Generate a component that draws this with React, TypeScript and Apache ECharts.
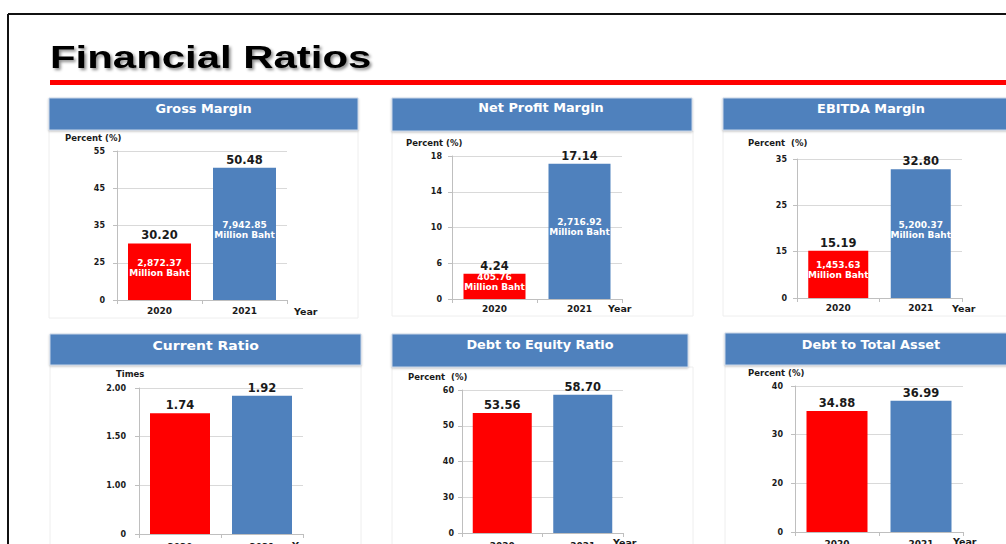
import React, { useEffect, useRef } from 'react';
import * as echarts from 'echarts';

// ---- data ----
const years = ['2020', '2021'];

const grossMargin = [30.2, 50.48];
const grossAmount = ['2,872.37', '7,942.85'];
const grossTicks = ['0', '25', '35', '45', '55'];

const netProfitMargin = [4.24, 17.14];
const netProfitAmount = ['405.76', '2,716.92'];
const netProfitTicks = ['0', '6', '10', '14', '18'];

const ebitdaMargin = [15.19, 32.8];
const ebitdaAmount = ['1,453.63', '5,200.37'];
const ebitdaTicks = ['0', '15', '25', '35'];

const currentRatio = [1.74, 1.92];
const currentTicks = ['0', '1.00', '1.50', '2.00'];

const debtToEquity = [53.56, 58.7];
const debtToEquityTicks = ['0', '30', '40', '50', '60'];

const debtToAsset = [34.88, 36.99];
const debtToAssetTicks = ['0', '20', '30', '40'];

// ---- styles ----
const FONT = '"DejaVu Sans", Verdana, sans-serif';
const RED = '#FF0000';
const BLUE = '#4F81BD';
const TXT = '#1a1a1a';

// piecewise axis (each labelled tick equally spaced, as in the source)
function toAxis(v: number, labels: string[]) {
  const t = labels.map(Number);
  for (let i = 0; i < t.length - 1; i++) {
    if (v <= t[i + 1]) return i + (v - t[i]) / (t[i + 1] - t[i]);
  }
  const n = t.length;
  return n - 1 + (v - t[n - 1]) / (t[n - 1] - t[n - 2]);
}

type Panel = {
  title: string;
  unit: string;
  values: number[];
  amounts?: string[];
  ticks: string[];
  grid: { left: number; top: number; width: number; height: number };
  barWidth: number;
  labelMargin: number;
  catMargin: number;
  header: { x: number; y: number; w: number; h: number; tx: number; ty: number; fs: number };
  box: { x: number; y: number; w: number; h: number };
  unitPos: [number, number];
  yearPos: [number, number];
};

const panels: Panel[] = [
  {
    title: 'Gross Margin', unit: 'Percent (%)', values: grossMargin, amounts: grossAmount, ticks: grossTicks,
    grid: { left: 117, top: 151, width: 170, height: 149 }, barWidth: 63, labelMargin: 12, catMargin: 6,
    header: { x: 49, y: 98, w: 309, h: 32, tx: 203.5, ty: 109, fs: 11.5 },
    box: { x: 49, y: 130, w: 309, h: 188 }, unitPos: [65, 138], yearPos: [294, 311],
  },
  {
    title: 'Net Profit Margin', unit: 'Percent (%)', values: netProfitMargin, amounts: netProfitAmount, ticks: netProfitTicks,
    grid: { left: 452, top: 156, width: 170, height: 143 }, barWidth: 62, labelMargin: 10, catMargin: 5,
    header: { x: 392, y: 98, w: 300, h: 33, tx: 541, ty: 108, fs: 11.5 },
    box: { x: 392, y: 131, w: 301, h: 185 }, unitPos: [406, 143], yearPos: [608, 308],
  },
  {
    title: 'EBITDA Margin', unit: 'Percent  (%)', values: ebitdaMargin, amounts: ebitdaAmount, ticks: ebitdaTicks,
    grid: { left: 797, top: 159, width: 165, height: 139 }, barWidth: 60, labelMargin: 10, catMargin: 5,
    header: { x: 723, y: 98, w: 290, h: 32, tx: 871, ty: 109, fs: 11.5 },
    box: { x: 723, y: 130, w: 290, h: 186 }, unitPos: [748, 143], yearPos: [952, 308],
  },
  {
    title: 'Current Ratio', unit: 'Times', values: currentRatio, ticks: currentTicks,
    grid: { left: 139, top: 388, width: 164, height: 146 }, barWidth: 60, labelMargin: 13, catMargin: 8,
    header: { x: 50, y: 334, w: 311, h: 31, tx: 205.7, ty: 345.7, fs: 12.5 },
    box: { x: 50, y: 365, w: 311, h: 200 }, unitPos: [116, 374], yearPos: [292, 545],
  },
  {
    title: 'Debt to Equity Ratio', unit: 'Percent  (%)', values: debtToEquity, ticks: debtToEquityTicks,
    grid: { left: 462, top: 390, width: 161, height: 143 }, barWidth: 59, labelMargin: 8, catMargin: 8,
    header: { x: 392, y: 334, w: 296, h: 33, tx: 540, ty: 345, fs: 11.5 },
    box: { x: 392, y: 367, w: 301, h: 200 }, unitPos: [408, 377], yearPos: [613, 542],
  },
  {
    title: 'Debt to Total Asset', unit: 'Percent (%)', values: debtToAsset, ticks: debtToAssetTicks,
    grid: { left: 795, top: 386, width: 168, height: 146 }, barWidth: 61, labelMargin: 12, catMargin: 7,
    header: { x: 725, y: 333, w: 290, h: 32, tx: 871, ty: 345, fs: 11.5 },
    box: { x: 725, y: 365, w: 290, h: 200 }, unitPos: [748, 373], yearPos: [953, 541],
  },
];

function buildOption() {
  const grid: any[] = [];
  const xAxis: any[] = [];
  const yAxis: any[] = [];
  const series: any[] = [];
  const graphic: any[] = [];

  // outer frame
  graphic.push({ type: 'line', shape: { x1: 8, y1: 14, x2: 1010, y2: 14 }, style: { stroke: '#111', lineWidth: 2 } });
  graphic.push({ type: 'line', shape: { x1: 8, y1: 14, x2: 8, y2: 550 }, style: { stroke: '#111', lineWidth: 2 } });
  // title
  graphic.push({
    type: 'text', x: 50, y: 57, scaleX: 1.31, scaleY: 1,
    style: {
      text: 'Financial Ratios', fontFamily: '"Liberation Sans", Arial, sans-serif', fontWeight: 'bold', fontSize: 32,
      fill: '#000', align: 'left', verticalAlign: 'middle',
      textShadowColor: 'rgba(0,0,0,0.45)', textShadowBlur: 3, textShadowOffsetX: 2, textShadowOffsetY: 2,
    },
  });
  graphic.push({ type: 'rect', shape: { x: 50, y: 80, width: 970, height: 5 }, style: { fill: RED } });

  panels.forEach((p, i) => {
    const b = p.box;
    graphic.push({ type: 'rect', shape: { x: b.x, y: b.y, width: b.w, height: b.h }, style: { fill: '#fff', stroke: '#eeeeee', lineWidth: 1 }, z: -10 });
    const h = p.header;
    graphic.push({
      type: 'rect', shape: { x: h.x, y: h.y, width: h.w, height: h.h },
      style: { fill: BLUE, stroke: '#c9d6e8', lineWidth: 1, shadowColor: 'rgba(0,0,0,0.25)', shadowBlur: 2, shadowOffsetY: 1 },
    });
    graphic.push({
      type: 'text', x: h.tx, y: h.ty, scaleX: 1.12, scaleY: 1,
      style: { text: p.title, fontFamily: FONT, fontWeight: 'bold', fontSize: h.fs, fill: '#fff', align: 'center', verticalAlign: 'middle' },
    });
    graphic.push({
      type: 'text', x: p.unitPos[0], y: p.unitPos[1],
      style: { text: p.unit, fontFamily: FONT, fontWeight: 'bold', fontSize: 8.5, fill: TXT, align: 'left', verticalAlign: 'middle' },
    });
    graphic.push({
      type: 'text', x: p.yearPos[0], y: p.yearPos[1],
      style: { text: 'Year', fontFamily: FONT, fontWeight: 'bold', fontSize: 9.5, fill: TXT, align: 'left', verticalAlign: 'middle' },
    });

    grid.push({ ...p.grid, containLabel: false, outerBoundsMode: 'none' });
    xAxis.push({
      gridIndex: i, type: 'category', data: years,
      axisLine: { show: true, lineStyle: { color: '#bfbfbf', width: 1 } },
      axisTick: { show: true, length: 4, lineStyle: { color: '#bfbfbf' } },
      axisLabel: { margin: p.catMargin, fontFamily: FONT, fontWeight: 'bold', fontSize: 9, color: TXT },
    });
    const labels = p.ticks;
    yAxis.push({
      gridIndex: i, type: 'value', min: 0, max: labels.length - 1, interval: 1,
      axisLine: { show: true, lineStyle: { color: '#bfbfbf', width: 1 } },
      axisTick: { show: true, length: 4, lineStyle: { color: '#bfbfbf' } },
      splitLine: { show: true, lineStyle: { color: '#d9d9d9', width: 1 } },
      axisLabel: {
        margin: p.labelMargin, fontFamily: FONT, fontWeight: 'bold', fontSize: 8, color: TXT,
        formatter: (v: number) => labels[Math.round(v)] ?? '',
      },
    });
    const values = p.values;
    series.push({
      type: 'bar', xAxisIndex: i, yAxisIndex: i, barWidth: p.barWidth, barGap: '-100%',
      data: values.map((v, j) => ({ value: toAxis(v, labels), itemStyle: { color: j === 0 ? RED : BLUE } })),
      label: {
        show: true, position: 'top', distance: 2,
        formatter: (q: any) => values[q.dataIndex].toFixed(2),
        fontFamily: FONT, fontWeight: 'bold', fontSize: 11.5, color: TXT,
      },
    });
    if (p.amounts) {
      const amounts = p.amounts;
      series.push({
        type: 'bar', xAxisIndex: i, yAxisIndex: i, barWidth: p.barWidth, barGap: '-100%', silent: true,
        data: values.map((v) => ({ value: toAxis(v, labels), itemStyle: { color: 'rgba(0,0,0,0)' } })),
        label: {
          show: true, position: 'inside', offset: [0, -4],
          formatter: (q: any) => amounts[q.dataIndex] + '\nMillion Baht',
          fontFamily: FONT, fontWeight: 'bold', fontSize: 9, lineHeight: 10, color: '#fff',
        },
      });
    }
  });

  return { animation: false, backgroundColor: '#fff', grid, xAxis, yAxis, series, graphic };
}

export default function App() {
  const ref = useRef<HTMLDivElement>(null);
  useEffect(() => {
    if (!ref.current) return;
    const chart = echarts.init(ref.current, undefined, { renderer: 'svg' });
    chart.setOption(buildOption() as any);
    return () => chart.dispose();
  }, []);
  return <div ref={ref} style={{ position: 'absolute', left: 0, top: 0, width: 1006, height: 544 }} />;
}
